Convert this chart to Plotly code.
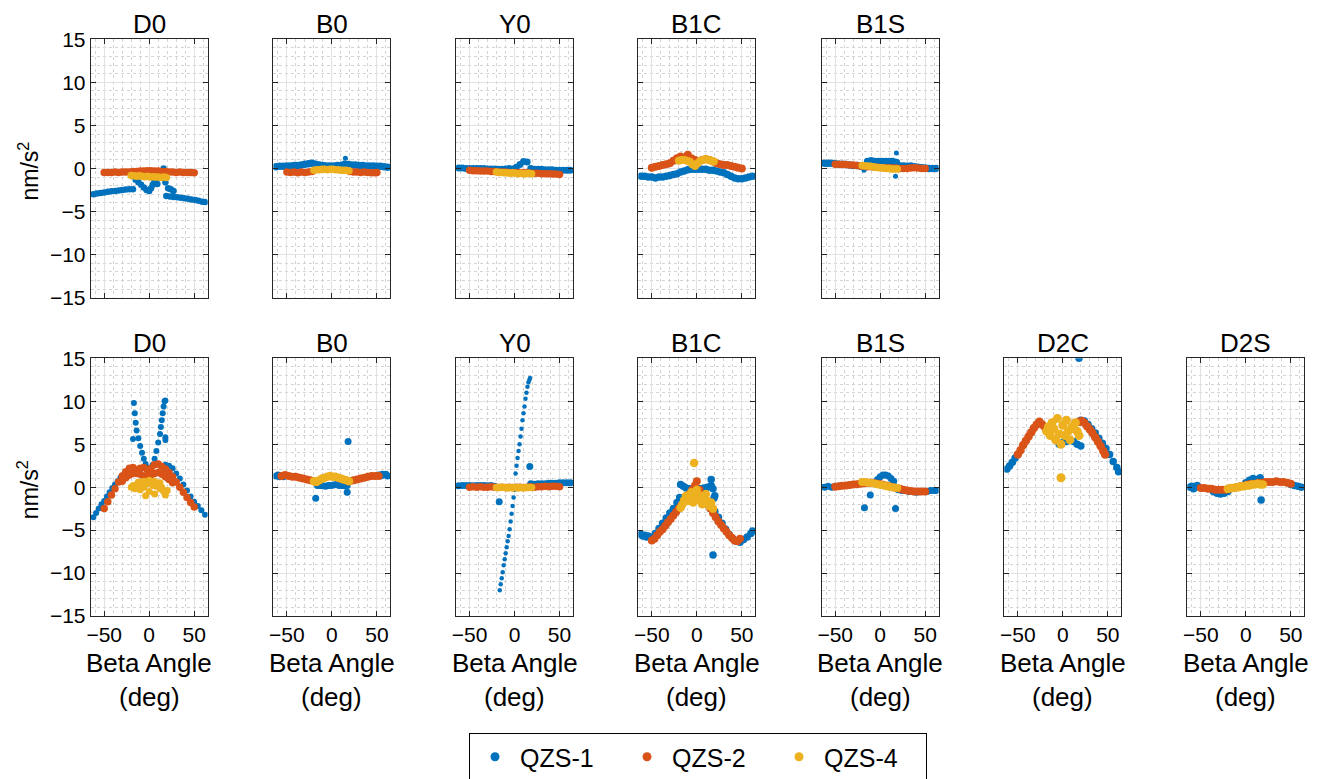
import plotly.graph_objects as go

# ---------------- data ----------------
SATS = ["QZS-1", "QZS-2", "QZS-4"]
COLORS = ["#0072BD", "#D95319", "#EDB120"]
TOP_TITLES = ["D0", "B0", "Y0", "B1C", "B1S"]
BOT_TITLES = ["D0", "B0", "Y0", "B1C", "B1S", "D2C", "D2S"]
X_TICKS = [-50, 0, 50]
Y_TICKS = [-15, -10, -5, 0, 5, 10, 15]

X_FULL = [-62, -58, -54, -50, -46, -42, -38, -34, -30, -26, -22, -18, -14, -10, -6, -2,
          2, 6, 10, 14, 18, 22, 26, 30, 34, 38, 42, 46, 50, 54, 58, 62]
X_MID = [-50, -46, -42, -38, -34, -30, -26, -22, -18, -14, -10, -6, -2,
         2, 6, 10, 14, 18, 22, 26, 30, 34, 38, 42, 46, 50]
X_CTR = [-20, -17, -14, -11, -8, -5, -2, 1, 4, 7, 10, 13, 16, 19]

# --- top row ---
T_D0_X1 = [-62, -58, -54, -50, -46, -42, -38, -34, -30, -26, -22, -18,
           -15, -12, -9, -6, -3, 0, 2, 4, 6, 8, 10, 12, 14, 16, 3, 6, 9,
           18, 21, 24, 27, 19, 23, 27, 31, 35, 39, 43, 47, 51, 55, 59, 62]
T_D0_Y1 = [-3.0, -2.9, -2.85, -2.8, -2.7, -2.65, -2.6, -2.55, -2.5, -2.45, -2.4, -2.4,
           -1.3, -1.6, -1.9, -2.2, -2.5, -2.6, -2.3, -1.9, -1.5, -1.2, -0.9, -0.6, -0.3, 0.0, -1.0, -1.4, -1.8,
           -1.6, -2.3, -2.4, -2.6, -3.2, -3.25, -3.3, -3.35, -3.4, -3.45, -3.5, -3.6, -3.65, -3.75, -3.85, -3.9]
T_D0_Y2 = [-0.45, -0.45, -0.45, -0.4, -0.45, -0.4, -0.4, -0.4, -0.35, -0.35, -0.3, -0.3, -0.25,
           -0.25, -0.3, -0.3, -0.35, -0.35, -0.4, -0.4, -0.45, -0.4, -0.45, -0.45, -0.45, -0.5]
T_D0_Y4 = [-0.8, -0.85, -0.9, -0.85, -0.9, -0.95, -0.9, -1.0, -0.95, -1.0, -1.0, -1.05, -1.0, -1.05]

T_B0_Y1 = [0.2, 0.25, 0.25, 0.3, 0.3, 0.35, 0.35, 0.4, 0.5, 0.55, 0.6, 0.5, 0.4, 0.35, 0.3, 0.3,
           0.3, 0.35, 0.35, 0.5, 0.45, 0.4, 0.4, 0.35, 0.35, 0.3, 0.3, 0.3, 0.25, 0.25, 0.2, 0.15]
T_B0_X1B = [15]
T_B0_Y1B = [1.2]
T_B0_X2 = [-50, -46, -42, -38, -34, -30, -26, -22, 20, 24, 28, 32, 36, 40, 44, 48, 50]
T_B0_Y2 = [-0.4, -0.45, -0.4, -0.5, -0.4, -0.45, -0.4, -0.35, -0.35, -0.4, -0.4, -0.45, -0.4, -0.45, -0.5, -0.5, -0.45]
T_B0_Y4 = [-0.2, -0.15, -0.15, -0.1, -0.1, -0.15, -0.1, -0.1, -0.15, -0.15, -0.2, -0.2, -0.2, -0.25]

T_Y0_Y1 = [0.05, 0.05, 0.0, 0.0, 0.0, 0.0, 0.0, 0.0, -0.05, -0.05, -0.05, -0.1, -0.1, -0.05, 0.0, -0.05,
           0.15, 0.45, 0.8, 0.75, 0.0, -0.1, -0.1, -0.1, -0.15, -0.15, -0.15, -0.2, -0.2, -0.2, -0.2, -0.2]
T_Y0_Y2 = [-0.2, -0.25, -0.25, -0.3, -0.3, -0.3, -0.35, -0.35, -0.4, -0.4, -0.4, -0.45, -0.45,
           -0.45, -0.5, -0.5, -0.5, -0.55, -0.55, -0.55, -0.6, -0.6, -0.6, -0.65, -0.65, -0.7]
T_Y0_Y4 = [-0.4, -0.45, -0.45, -0.5, -0.5, -0.55, -0.5, -0.55, -0.6, -0.55, -0.6, -0.6, -0.55, -0.6]

T_B1C_Y1 = [-0.9, -0.9, -1.0, -1.0, -1.1, -1.0, -1.0, -0.9, -0.8, -0.7, -0.6, -0.4, -0.3, -0.15, -0.1, -0.1,
            -0.1, -0.1, -0.1, -0.2, -0.2, -0.3, -0.4, -0.5, -0.7, -0.9, -1.1, -1.2, -1.2, -1.1, -1.0, -0.9]
T_B1C_Y2 = [0.1, 0.2, 0.3, 0.4, 0.5, 0.6, 0.9, 1.2, 1.4, 1.2, 1.6, 1.2, 1.0,
            0.8, 1.0, 1.1, 1.0, 0.8, 0.6, 0.5, 0.4, 0.4, 0.3, 0.2, 0.1, 0.0]
T_B1C_Y4 = [0.9, 1.0, 1.0, 0.9, 0.8, 0.5, 0.3, 0.6, 0.9, 1.0, 1.1, 1.0, 0.9, 0.8]

T_B1S_Y1 = [0.6, 0.6, 0.6, 0.55, 0.5, 0.5, 0.45, 0.4, 0.35, 0.35, 0.3, 0.3, 0.8, 0.9, 0.8, 0.8,
            0.8, 0.8, 0.8, 0.8, 0.7, 0.3, 0.3, 0.25, 0.3, 0.2, 0.15, 0.1, 0.05, 0.0, 0.0, 0.0]
T_B1S_X1B = [18, 17, -18]
T_B1S_Y1B = [1.8, -0.9, -0.2]
T_B1S_Y2 = [0.5, 0.5, 0.45, 0.45, 0.4, 0.4, 0.35, 0.3, 0.25, 0.2, 0.2, 0.15, 0.15,
            0.1, 0.1, 0.1, 0.05, 0.05, 0.0, 0.0, 0.0, 0.05, 0.1, 0.05, 0.0, 0.0]
T_B1S_Y4 = [0.35, 0.3, 0.3, 0.25, 0.2, 0.15, 0.1, 0.1, 0.05, 0.0, 0.0, -0.05, -0.05, -0.05]

# --- bottom row ---
B_D0_X1 = [-62, -59, -56, -53, -50, -47, -44, -41, -38, -35, -32, -29, -26, -23,
           -18, -17, -16, -15, -14, -12, -10, -8, -6, -4, -2,
           2, 4, 6, 8, 10, 12, 13, 14, 15, 16, 17, 18, 18, 18, 20,
           18, 22, 26, 30, 34, 38, 42, 46, 50, 54, 58, 62]
B_D0_Y1 = [-3.5, -3.0, -2.5, -2.0, -1.6, -1.1, -0.6, -0.1, 0.3, 0.7, 1.1, 1.4, 1.7, 2.0,
           5.6, 9.8, 8.6, 7.5, 6.6, 5.7, 4.8, 4.0, 3.3, 2.7, 2.3,
           2.0, 2.6, 3.3, 4.2, 5.2, 6.2, 7.0, 7.8, 8.6, 9.4, 10.0, 10.1, 5.8, 5.5, 1.0,
           2.6, 2.5, 2.2, 1.6, 1.0, 0.3, -0.4, -1.1, -1.7, -2.2, -2.7, -3.2]
B_D0_X2 = [-50, -46, -42, -38, -34, -30, -26, -22, -18, -14, -10, -6, -2,
           2, 6, 10, 14, 18, 22, 26, 30, 34, 38, 42, 46, 50,
           -30, -26, -22, -18, -14, -10, -6, -2, 2, 6, 10, 14, 18, 22, 26]
B_D0_Y2 = [-2.5, -1.7, -0.9, -0.2, 0.6, 1.3, 1.8, 2.2, 2.3, 2.0, 2.2, 2.3, 2.0,
           2.2, 2.6, 2.7, 2.4, 2.1, 1.7, 1.2, 0.6, 0.0, -0.6, -1.2, -1.8, -2.3,
           0.7, 1.1, 1.4, 1.6, 1.6, 1.5, 1.3, 1.2, 1.4, 1.6, 1.7, 1.5, 1.2, 0.9, 0.5]
B_D0_X4 = [-20, -18, -16, -14, -12, -10, -8, -6, -4, -2, 0, 2, 4, 6, 8, 10, 12, 14, 16, 18, 20,
           -12, -6, 0, 6, 12]
B_D0_Y4 = [0.0, 0.2, -0.2, 0.3, 0.1, -0.3, 0.5, 0.0, -1.0, 0.4, -0.5, 0.6, 0.2, -0.8, 0.1, 0.4, -0.2, 0.0, -0.5, -0.9, -0.4,
           0.6, 0.7, 0.8, 0.7, 0.5]

B_B0_X1 = [-62, -60, -58, -56, -54, -16, -13, -10, -7, -4, -1, 2, 5, 8, 11, 14, 17,
           52, 54, 56, 58, 60, 62, 18, -18, 17]
B_B0_Y1 = [1.3, 1.4, 1.2, 1.3, 1.2, 0.2, 0.2, 0.15, 0.1, 0.2, 0.2, 0.25, 0.3, 0.2, 0.2, 0.15, 0.2,
           1.4, 1.3, 1.5, 1.4, 1.5, 1.3, 5.3, -1.3, -0.6]
B_B0_X2 = [-56, -52, -48, -44, -40, -36, -32, -28, -24, -20, 20, 24, 28, 32, 36, 40, 44, 48, 52]
B_B0_Y2 = [1.3, 1.4, 1.3, 1.2, 1.2, 1.1, 1.0, 0.9, 0.8, 0.7, 0.7, 0.8, 0.9, 1.0, 1.1, 1.2, 1.3, 1.3, 1.3]
B_B0_Y4 = [0.7, 0.6, 0.8, 1.0, 1.1, 1.2, 1.3, 1.2, 1.2, 1.1, 1.0, 0.9, 0.8, 0.7]

B_Y0_X1 = [-62, -58, -54, -50, -46, -42, -38, -34, -30, -26, -22,
           18, 22, 26, 30, 34, 38, 42, 46, 50, 54, 58, 62, -17, 17]
B_Y0_Y1 = [0.15, 0.2, 0.2, 0.2, 0.15, 0.2, 0.2, 0.2, 0.15, 0.2, 0.1,
           0.4, 0.35, 0.4, 0.4, 0.4, 0.45, 0.45, 0.45, 0.5, 0.5, 0.5, 0.5, -1.7, 2.4]
B_Y0_XD = [-16.4, -15.3, -14.2, -13.1, -12.0, -10.9, -9.8, -8.7, -7.6, -6.5, -5.4, -4.3, -3.2, -2.1, -1.0, 0.1,
           1.2, 2.3, 3.4, 4.5, 5.6, 6.7, 7.8, 8.9, 10.0, 11.1, 12.2, 13.3, 14.4, 15.5, 16.6, 17.2]
B_Y0_YD = [-12.0, -11.3, -10.6, -9.9, -9.1, -8.4, -7.7, -7.0, -6.3, -5.7, -4.9, -4.0, -3.1, -2.2, -1.2, -0.3,
           1.6, 2.5, 3.4, 4.2, 5.0, 5.9, 6.8, 7.8, 8.6, 9.4, 10.3, 11.0, 11.7, 12.2, 12.5, 12.7]
B_Y0_Y2 = [0.0, 0.05, 0.0, 0.05, 0.0, 0.0, 0.05, 0.0, -0.05, 0.0, -0.05, 0.0, -0.05,
           0.0, 0.0, -0.05, 0.0, 0.05, 0.0, 0.05, 0.05, 0.1, 0.05, 0.1, 0.1, 0.05]
B_Y0_Y4 = [-0.05, -0.05, 0.0, -0.05, -0.1, -0.05, -0.1, -0.05, -0.1, -0.05, -0.1, -0.05, -0.05, -0.05]

B_B1C_X1 = [-62, -60, -58, -56, -54, -52, -50, -46, -42, -38, -34, -30, -26, -22, -19,
            -18, -15, -12, -8, -4, 0, 4, 8, 12, 16, 18,
            20, 24, 28, 32, 36, 40, 44, 48, 52, 56, 60, 62,
            16, 20, 19, 18]
B_B1C_Y1 = [-5.5, -5.7, -5.6, -5.8, -5.7, -5.8, -5.9, -5.4, -4.8, -4.2, -3.6, -3.0, -2.5, -1.8, -1.2,
            0.3, 0.1, -0.1, -0.2, -0.2, -0.1, -0.2, -0.1, 0.0, 0.2, -0.2,
            -2.8, -3.5, -4.2, -4.9, -5.5, -6.0, -6.3, -6.4, -6.1, -5.8, -5.4, -5.1,
            0.9, -1.0, -1.3, -7.9]
B_B1C_X2 = [-50, -47, -44, -41, -38, -35, -32, -29, -26, -23, -20, -17, -14, -11, -8, -5, -2, 0,
            3, 6, 9, 12, 15, 18, 21, 24, 27, 30, 33, 36, 39, 42, 45, 48]
B_B1C_Y2 = [-6.2, -6.0, -5.6, -5.2, -4.9, -4.5, -4.1, -3.7, -3.3, -2.9, -2.5, -2.1, -1.6, -1.2, -0.8, -0.3, 0.2, 0.7,
            -0.3, -0.9, -1.4, -2.0, -2.5, -3.0, -3.5, -4.0, -4.4, -4.8, -5.2, -5.6, -5.9, -6.2, -6.3, -6.0]
B_B1C_X4 = [-18, -16, -14, -12, -10, -8, -6, -4, -2, 0, 2, 4, 6, 8, 10, 12, 14, 16, 18, -3]
B_B1C_Y4 = [-2.4, -2.0, -1.5, -1.0, -1.6, -1.2, -0.6, -1.8, -0.9, -0.3, -1.5, -1.0, -2.0, -1.2, -0.8, -1.6, -2.2, -1.8, -2.5, 2.8]

B_B1S_X1 = [-62, -58, -54, -50, -46, -42, -6, -3, 0, 3, 6, 9, 12, 15,
            20, 24, 28, 32, 36, 40, 44, 48, 52, 56, 60, 62, -11, -17.5, 17]
B_B1S_Y1 = [0.0, 0.1, 0.0, 0.1, 0.1, 0.2, 0.6, 0.9, 1.2, 1.4, 1.4, 1.3, 1.0, 0.7,
            -0.3, -0.4, -0.4, -0.5, -0.5, -0.6, -0.5, -0.5, -0.5, -0.4, -0.4, -0.4, -0.9, -2.4, -2.5]
B_B1S_Y2 = [0.05, 0.1, 0.15, 0.2, 0.25, 0.3, 0.35, 0.4, 0.45, 0.5, 0.5, 0.45, 0.4,
            0.3, 0.2, 0.1, 0.0, -0.1, -0.2, -0.3, -0.4, -0.45, -0.5, -0.5, -0.5, -0.5]
B_B1S_Y4 = [0.6, 0.6, 0.55, 0.5, 0.45, 0.4, 0.3, 0.25, 0.2, 0.1, 0.05, 0.0, -0.05, -0.1]

B_D2C_X1 = [-62, -59, -56, -53, -50, 20, 24, 28, 32, 36, 40, 44, 48, 52, 56, 60, 62,
            -8, -4, 0, 4, 8, 12, 16, 20, 18]
B_D2C_Y1 = [2.1, 2.5, 2.9, 3.4, 3.8, 7.8, 7.7, 7.3, 6.8, 6.3, 5.7, 5.1, 4.5, 3.8, 3.0, 2.3, 1.8,
            5.5, 5.0, 5.2, 5.3, 5.5, 5.3, 5.0, 4.8, 15.0]
B_D2C_X2 = [-50, -47, -44, -41, -38, -35, -32, -29, -26, -23, -20, -17,
            18, 21, 24, 27, 30, 33, 36, 39, 42, 45, 47]
B_D2C_Y2 = [3.8, 4.3, 4.9, 5.4, 5.9, 6.4, 6.9, 7.3, 7.6, 7.3, 7.0, 6.6,
            7.6, 7.7, 7.5, 7.1, 6.7, 6.3, 5.8, 5.3, 4.8, 4.2, 3.8]
B_D2C_X4 = [-18, -16, -14, -12, -10, -8, -6, -4, -2, 0, 2, 4, 6, 8, 10, 12, 14, 16, 18, -2]
B_D2C_Y4 = [6.5, 7.0, 6.0, 7.5, 6.8, 5.5, 8.0, 6.2, 5.0, 7.2, 6.0, 7.8, 6.5, 5.5, 7.0, 6.8, 7.5, 6.5, 6.0, 1.1]

B_D2S_X1 = [-62, -60, -58, -56, -54, -36, -32, -28, -24, -20, 0, 4, 8, 12, 16, 50, 54, 58, 62, 17]
B_D2S_Y1 = [0.0, 0.1, -0.2, 0.0, 0.2, -0.5, -0.7, -0.8, -0.7, -0.5, 0.5, 0.8, 1.0, 0.9, 1.1, 0.3, 0.2, 0.1, 0.0, -1.5]
B_D2S_Y2 = [-0.1, -0.1, -0.2, -0.2, -0.3, -0.3, -0.3, -0.3, -0.2, -0.1, 0.0, 0.1, 0.2,
            0.3, 0.4, 0.4, 0.5, 0.5, 0.6, 0.6, 0.6, 0.7, 0.6, 0.6, 0.5, 0.4]
B_D2S_Y4 = [-0.2, -0.1, -0.1, 0.0, 0.0, 0.1, 0.1, 0.2, 0.2, 0.3, 0.3, 0.4, 0.3, 0.3]

# panel series: list of (sat index, xs, ys, marker size)
TOP_PANELS = [
    [(0, T_D0_X1, T_D0_Y1, 6.5), (1, X_MID, T_D0_Y2, 7.5), (2, X_CTR, T_D0_Y4, 7.5)],
    [(0, X_FULL, T_B0_Y1, 7.5), (0, T_B0_X1B, T_B0_Y1B, 5), (1, T_B0_X2, T_B0_Y2, 7.5), (2, X_CTR, T_B0_Y4, 7.5)],
    [(0, X_FULL, T_Y0_Y1, 7), (1, X_MID, T_Y0_Y2, 7.5), (2, X_CTR, T_Y0_Y4, 7.5)],
    [(0, X_FULL, T_B1C_Y1, 7.5), (1, X_MID, T_B1C_Y2, 8), (2, X_CTR, T_B1C_Y4, 8)],
    [(0, X_FULL, T_B1S_Y1, 7.5), (0, T_B1S_X1B, T_B1S_Y1B, 5), (1, X_MID, T_B1S_Y2, 7.5), (2, X_CTR, T_B1S_Y4, 7.5)],
]
BOT_PANELS = [
    [(0, B_D0_X1, B_D0_Y1, 6), (1, B_D0_X2, B_D0_Y2, 7.5), (2, B_D0_X4, B_D0_Y4, 7)],
    [(0, B_B0_X1, B_B0_Y1, 7), (1, B_B0_X2, B_B0_Y2, 8), (2, X_CTR, B_B0_Y4, 8.5)],
    [(0, B_Y0_X1, B_Y0_Y1, 7), (0, B_Y0_XD, B_Y0_YD, 4.5), (1, X_MID, B_Y0_Y2, 7.5), (2, X_CTR, B_Y0_Y4, 7.5)],
    [(0, B_B1C_X1, B_B1C_Y1, 7.5), (1, B_B1C_X2, B_B1C_Y2, 8), (2, B_B1C_X4, B_B1C_Y4, 8.5)],
    [(0, B_B1S_X1, B_B1S_Y1, 7), (1, X_MID, B_B1S_Y2, 8), (2, X_CTR, B_B1S_Y4, 8)],
    [(0, B_D2C_X1, B_D2C_Y1, 7.5), (1, B_D2C_X2, B_D2C_Y2, 8.5), (2, B_D2C_X4, B_D2C_Y4, 9)],
    [(0, B_D2S_X1, B_D2S_Y1, 7.5), (1, X_MID, B_D2S_Y2, 8), (2, X_CTR, B_D2S_Y4, 8.5)],
]

# ---------------- layout geometry ----------------
W, H = 1321, 779
COL_LEFT = [90.7, 273.4, 456.0, 638.3, 821.7, 1004.3, 1187.3]
AX_W = 117.0
ROW_TOP = [(39.3, 297.7), (358.3, 616.0)]
FONT = "Liberation Sans, Arial, sans-serif"
AXC = "#262626"

fig = go.Figure()
layout = dict(width=W, height=H, margin=dict(l=0, r=0, t=0, b=0, autoexpand=False),
              paper_bgcolor="white", plot_bgcolor="white",
              font=dict(family=FONT, color="black", size=21))
annotations = []

panels = [(0, c, TOP_TITLES[c], TOP_PANELS[c]) for c in range(5)] + \
         [(1, c, BOT_TITLES[c], BOT_PANELS[c]) for c in range(7)]

for k, (row, col, title, series) in enumerate(panels):
    n = k + 1
    xa = "x" if n == 1 else f"x{n}"
    ya = "y" if n == 1 else f"y{n}"
    x0 = COL_LEFT[col] / W
    x1 = (COL_LEFT[col] + AX_W) / W
    ytop, ybot = ROW_TOP[row]
    y0 = 1 - ybot / H
    y1 = 1 - ytop / H
    common = dict(showline=True, linecolor=AXC, linewidth=1, mirror="ticks",
                  ticks="inside", ticklen=5, tickcolor=AXC, tickwidth=1,
                  showgrid=True, gridcolor="#e2e2e2", gridwidth=1, zeroline=False,
                  automargin=False,
                  tickfont=dict(family=FONT, size=21, color="black"))
    layout["xaxis" if n == 1 else f"xaxis{n}"] = dict(
        common, domain=[x0, x1], range=[-65, 65], tickvals=X_TICKS, anchor=ya,
        showticklabels=(row == 1),
        minor=dict(dtick=10, tick0=0, showgrid=True, gridcolor="#d4d4d4", griddash="dot", gridwidth=1, ticks=""))
    layout["yaxis" if n == 1 else f"yaxis{n}"] = dict(
        common, domain=[y0, y1], range=[-15, 15], tickvals=Y_TICKS, anchor=xa,
        showticklabels=(col == 0),
        minor=dict(dtick=1, tick0=0, showgrid=True, gridcolor="#d4d4d4", griddash="dot", gridwidth=1, ticks=""))
    for si, xs, ys, sz in series:
        fig.add_trace(go.Scatter(x=xs, y=ys, mode="markers", xaxis=xa, yaxis=ya,
                                 marker=dict(color=COLORS[si], size=sz, line=dict(width=0)),
                                 name=SATS[si], showlegend=False, hoverinfo="skip"))
    cx = (COL_LEFT[col] + AX_W / 2) / W
    annotations.append(dict(text=title, x=cx, y=y1, xref="paper", yref="paper",
                            xanchor="center", yanchor="bottom", showarrow=False, yshift=-2,
                            font=dict(family=FONT, size=26, color="black")))
    if row == 1:
        annotations.append(dict(text="Beta Angle", x=cx, y=1 - 662.5 / H, xref="paper", yref="paper",
                                xanchor="center", yanchor="middle", showarrow=False,
                                font=dict(family=FONT, size=26, color="black")))
        annotations.append(dict(text="(deg)", x=cx, y=1 - 697 / H, xref="paper", yref="paper",
                                xanchor="center", yanchor="middle", showarrow=False,
                                font=dict(family=FONT, size=26, color="black")))
    if col == 0:
        annotations.append(dict(text="nm/s<sup>2</sup>", x=28 / W, y=1 - ((ytop + ybot) / 2 + 3) / H,
                                xref="paper", yref="paper", xanchor="center", yanchor="middle",
                                textangle=-90, showarrow=False,
                                font=dict(family=FONT, size=23, color="black")))

# legend-only entries
for si in range(3):
    fig.add_trace(go.Scatter(x=[None], y=[None], mode="markers", xaxis="x", yaxis="y",
                             marker=dict(color=COLORS[si], size=9), name=SATS[si], showlegend=True))

layout["annotations"] = annotations
layout["showlegend"] = True
layout["legend"] = dict(orientation="h", x=469 / W, y=1 - 733 / H, xanchor="left", yanchor="top",
                        bordercolor="black", borderwidth=1, bgcolor="white",
                        font=dict(family=FONT, size=25, color="black"),
                        itemwidth=40, entrywidth=97, entrywidthmode="pixels", itemclick=False)
fig.update_layout(**layout)
fig.write_html("out.html")
